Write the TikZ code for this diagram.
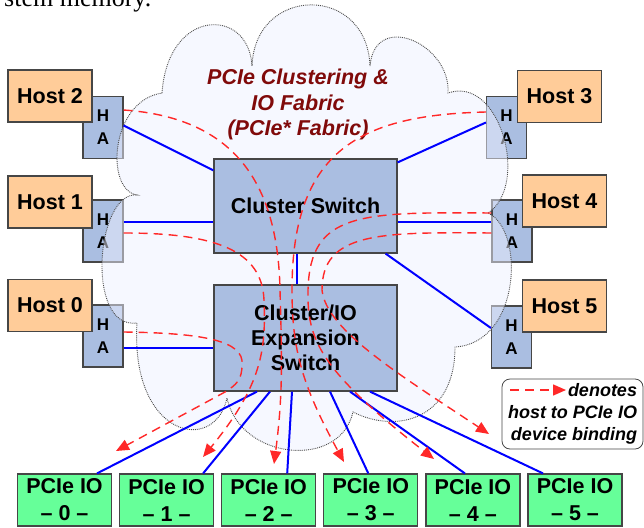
\documentclass[tikz,border=0pt]{standalone}
\usepackage{fontspec}
\setmainfont{Liberation Sans}
\newfontfamily\serifface{Liberation Serif}
\usetikzlibrary{arrows.meta}
\usetikzlibrary{calc}
\definecolor{hostorange}{RGB}{255,204,153}
\definecolor{switchblue}{RGB}{170,190,225}
\definecolor{iogreen}{RGB}{102,255,153}
\definecolor{cloudfill}{RGB}{238,241,255}
\definecolor{edgegray}{RGB}{70,70,70}
\definecolor{bindred}{RGB}{255,40,40}
\definecolor{fabricred}{RGB}{128,10,10}

\begin{document}
\begin{tikzpicture}[x = 1pt, y = -1pt,
        box/.style = {draw = edgegray, line width = 1.2pt, inner sep = 0pt},
        hostbox/.style = {box, fill = hostorange, minimum width = 84pt, minimum height = 52pt, font = \fontsize{21.5}{25}\selectfont\bfseries},
        habox/.style = {box, fill = switchblue, minimum width = 40pt, minimum height = 62pt, align = center, font = \fontsize{17}{23}\selectfont\bfseries},
        switchbox/.style = {box, fill = switchblue, minimum width = 183pt, align = center, font = \fontsize{21.5}{25}\selectfont\bfseries},
        iobox/.style = {box, fill = iogreen, minimum width = 94pt, minimum height = 52pt, align = center, font = \fontsize{21.5}{27}\selectfont\bfseries},
        bus/.style = {blue, line width = 2pt},
        binding/.style = {bindred, line width = 1.4pt, dash pattern = on 9pt off 6pt, -{Triangle[length = 13pt, width = 11pt]}}]
            \useasboundingbox (0,0) rectangle (644,527);
            \node[habox] (ha2) at (103,127.5) {H\\A};
            \node[habox] (ha1) at (103,231) {H\\A};
            \node[habox] (ha0) at (103,336) {H\\A};
            \node[habox] (ha3) at (506.5,127.5) {H\\A};
            \node[habox] (ha4) at (512,231) {H\\A};
            \node[habox] (ha5) at (511.5,337) {H\\A};
            \filldraw[draw = gray!60!black, densely dotted, line width = 0.9pt, fill = cloudfill, fill opacity = 0.5]
                (162,93) .. controls (168,7) and (249,7) .. (252,66)
                .. controls (255,-15) and (367,-16) .. (370,66)
                .. controls (375,10) and (451,44) .. (448,93)
                .. controls (500,75) and (530,185) .. (488,213)
                .. controls (525,230) and (521,343) .. (455,347)
                .. controls (455,420) and (396,434) .. (353,412)
                .. controls (340,470) and (240,460) .. (227,398)
                .. controls (215,455) and (130,438) .. (137,323)
                .. controls (85,330) and (96,191) .. (137,195)
                .. controls (105,190) and (110,101) .. (162,93) -- cycle;
            \node[font = \fontsize{21.5}{25.5}\selectfont\bfseries\itshape, text = fabricred, align = center] (fabric) at (298,104.5) {PCIe Clustering \&\\IO Fabric\\(PCIe* Fabric)};
            \node[switchbox, minimum height = 94pt] (csw) at (305.5,206) {Cluster Switch};
            \node[switchbox, minimum height = 106pt] (esw) at (305.5,338) {Cluster/IO\\Expansion\\Switch};
            \foreach \i in {0,...,5}
                \node[iobox] (io\i) at (64.5+102.1*\i,500) {PCIe IO\\\textendash\ \i\ \textendash};
            \draw[bus] ([yshift = 2pt]ha2.east) -- ([yshift = -12pt]csw.north west);
            \draw[bus] ([yshift = 9pt]ha1.east) -- ([yshift = 9pt]ha1.east -| csw.west);
            \draw[bus] ([yshift = -12pt]ha0.east) -- ([yshift = -12pt]ha0.east -| esw.west);
            \draw[bus] ([yshift = 5pt]ha3.west) -- ([yshift = -4pt]csw.north east);
            \draw[bus] ([yshift = 9pt]ha4.west) -- ([yshift = 9pt]ha4.west -| csw.east);
            \draw[bus] ([yshift = 9pt]ha5.west) -- ([xshift = -12pt]csw.south east);
            \draw[bus] ([xshift = -8.5pt]csw.south) -- ([xshift = -8.5pt]esw.north);
            \foreach \i/\a/\b in {0/-48.5/32.5, 1/-35.5/36.5, 2/-13.5/18.5, 3/24.5/-2.5, 4/44.5/-8, 5/64.5/-32}
                \draw[bus] ([xshift = \a pt]esw.south) -- ([xshift = \b pt]io\i.north);
            \node[hostbox] (host2) at (50,96) {Host 2};
            \node[hostbox] (host1) at (50,202) {Host 1};
            \node[hostbox] (host0) at (50,305.5) {Host 0};
            \node[hostbox] (host3) at (559.5,96.5) {Host 3};
            \node[hostbox] (host4) at (564.5,201) {Host 4};
            \node[hostbox] (host5) at (564.5,306) {Host 5};
            \coordinate (tip0) at (116,451);
            \coordinate (tip1) at (203,457);
            \coordinate (tip2) at (274,464);
            \coordinate (tip3) at (344,462);
            \coordinate (tip4) at (434,459);
            \coordinate (tip5) at (489,434);
            \draw[binding] ([yshift = 4pt]ha0.east) .. controls (200,333) and (245,340) .. (242,365) .. controls (242,380) and (236,385) .. (225,392) -- (tip0);
            \draw[binding] ([yshift = -2pt]ha1.east) .. controls (215,233) and (262,250) .. (264,300) .. controls (266,350) and (262,385) .. (tip1);
            \draw[binding] ([yshift = 17.5pt]ha2.east) .. controls (240,118) and (278,190) .. (280,290) .. controls (282,360) and (283,395) .. (tip2);
            \draw[binding] ([yshift = 15.5pt]ha3.west) .. controls (360,115) and (292,150) .. (292,290) .. controls (292,350) and (302,385) .. (tip3);
            \draw[binding] ([yshift = 18pt]ha4.west) .. controls (360,212) and (310,212) .. (308,290) .. controls (307,340) and (320,370) .. (tip4);
            \draw[binding] ([yshift = -2pt]ha4.west) .. controls (380,232) and (322,232) .. (322,290) .. controls (326,330) and (400,375) .. (tip5);
            \node[draw = edgegray, line width = 0.8pt, rounded corners = 8pt, fill = white, minimum width = 141pt, minimum height = 70pt, align = right, font = \fontsize{18}{22}\selectfont\bfseries\itshape] (key) at (572.5,414) {denotes\\host to PCIe IO\\device binding};
            \coordinate (keyl) at (510,390);
            \coordinate (keyr) at (566,390);
            \draw[binding] (keyl) -- (keyr);
            \node[font = \serifface\fontsize{26}{30}\selectfont, anchor = base west, inner sep = 0pt] (caption) at (4,7) {stem memory.};
        \end{tikzpicture}
\end{document}
